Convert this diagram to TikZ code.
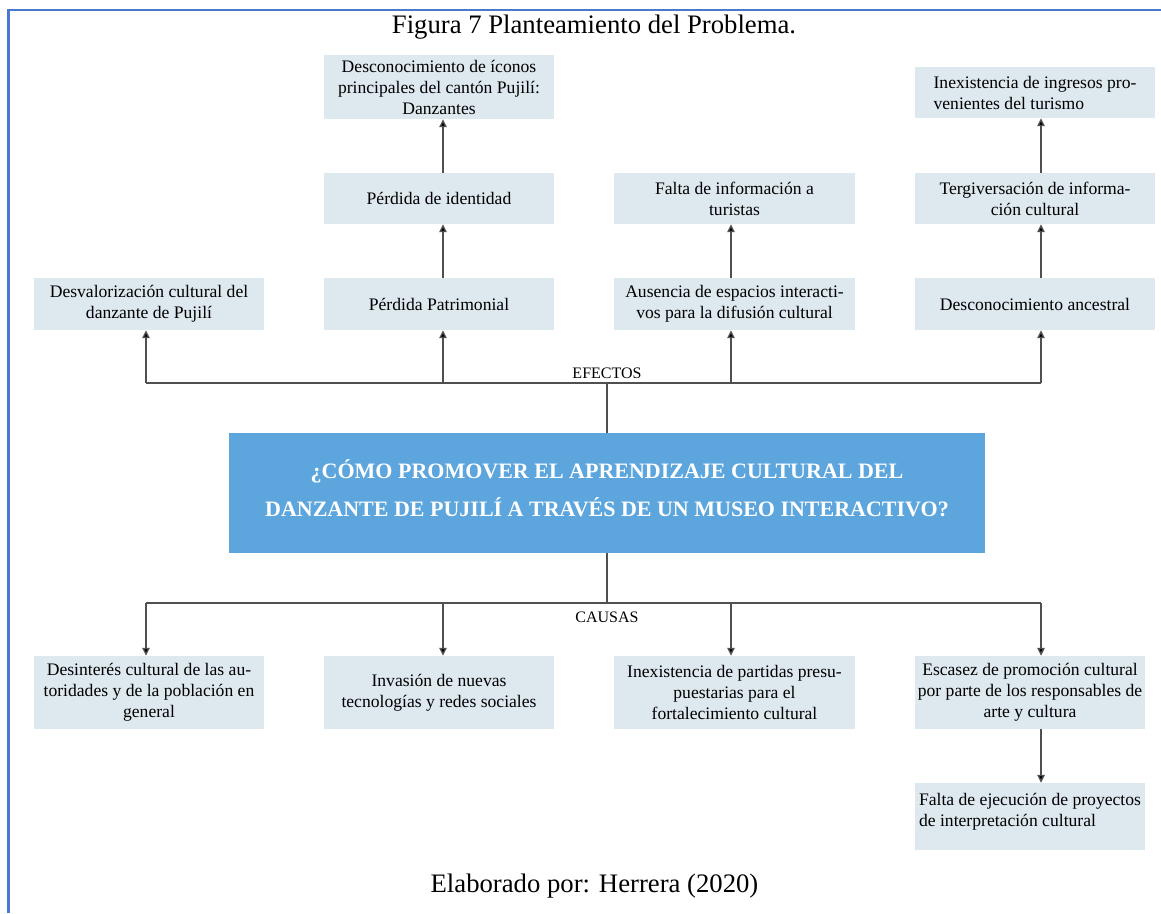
\documentclass[tikz,border=0pt]{standalone}
\usepackage{fontspec}
\setmainfont{Liberation Serif}
\usetikzlibrary{arrows.meta}
\definecolor{boxfill}{HTML}{DEE8EF}
\definecolor{qfill}{HTML}{5CA5DD}
\definecolor{framecol}{HTML}{4A78CF}
\definecolor{linecol}{HTML}{505050}
\begin{document}
\begin{tikzpicture}[x=1pt,y=-1pt,
  cbox/.style={fill=boxfill, inner sep=0pt, align=center, minimum width=#1,
    font=\fontsize{17.6}{21}\selectfont},
  lbox/.style={fill=boxfill, inner sep=0pt, align=left, minimum width=#1,
    font=\fontsize{17.6}{21}\selectfont},
  conn/.style={draw=linecol, line width=1.4pt},
  arr/.style={conn, -{Triangle[length=8pt,width=7.5pt,fill=black]}},
  lbl/.style={inner sep=0pt, font=\fontsize{16}{18}\selectfont},
  bigtxt/.style={inner sep=0pt, font=\fontsize{26.7}{30}\selectfont}
]
\useasboundingbox (0,0) rectangle (1161,913);
% frame
\draw[framecol, line width=2.4pt] (8.5,913) -- (8.5,10) -- (1161,10);

% title and source
\node[bigtxt] (title) at (594,27) {Figura 7 Planteamiento del Problema.};
\node[bigtxt] (source) at (594.5,886) {Elaborado por: Herrera (2020)};

% central question
\node[fill=qfill, minimum width=756pt, minimum height=120pt, inner sep=0pt,
  align=center, text=white, font=\fontsize{22}{38}\selectfont\bfseries]
  (q) at (607,493) {¿CÓMO PROMOVER EL APRENDIZAJE CULTURAL DEL\\DANZANTE DE PUJILÍ A TRAVÉS DE UN MUSEO INTERACTIVO?\\[-28pt]\mbox{}};

% effects
\node[cbox=230pt, minimum height=52pt] (e1) at (149,304) {Desvalorización cultural del\\danzante de Pujilí};
\node[cbox=230pt, minimum height=52pt] (e2a) at (439,304) {Pérdida Patrimonial};
\node[cbox=230pt, minimum height=51pt] (e2b) at (439,198.5) {Pérdida de identidad};
\node[cbox=230pt, minimum height=64pt] (e2c) at (439,87) {Desconocimiento de íconos\\principales del cantón Pujilí:\\Danzantes};
\node[cbox=241pt, minimum height=52pt] (e3a) at (734.5,304) {Ausencia de espacios interacti-\\vos para la difusión cultural};
\node[cbox=241pt, minimum height=51pt] (e3b) at (734.5,198.5) {Falta de información a\\turistas};
\node[cbox=240pt, minimum height=52pt] (e4a) at (1035,304) {Desconocimiento ancestral};
\node[cbox=240pt, minimum height=51pt] (e4b) at (1035,198.5) {Tergiversación de informa-\\ción cultural};
\node[lbox=240pt, minimum height=51pt] (e4c) at (1035,92.5) {Inexistencia de ingresos pro-\\venientes del turismo};

% causes
\node[cbox=230pt, minimum height=73pt] (c1) at (149,692.5) {Desinterés cultural de las au-\\toridades y de la población en\\general};
\node[cbox=230pt, minimum height=73pt] (c2) at (439,692.5) {Invasión de nuevas\\tecnologías y redes sociales};
\node[cbox=241pt, minimum height=73pt] (c3) at (734.5,692.5) {Inexistencia de partidas presu-\\puestarias para el\\fortalecimiento cultural};
\node[cbox=230pt, minimum height=73pt] (c4) at (1030,692.5) {Escasez de promoción cultural\\por parte de los responsables de\\arte y cultura};
\node[lbox=230pt, minimum height=67pt, text depth=0pt] (c5) at (1030,816.5) {Falta de ejecución de proyectos\\de interpretación cultural\\[-7pt]\mbox{}};

% bus coordinates
\coordinate (eb1) at (146,383);
\coordinate (eb2) at (443,383);
\coordinate (eb3) at (731,383);
\coordinate (eb4) at (1041,383);
\coordinate (cb1) at (146,603);
\coordinate (cb2) at (443,603);
\coordinate (cb3) at (731,603);
\coordinate (cb4) at (1041,603);

% effects connectors
\draw[conn] (q.north) -- (q.north |- eb1);
\draw[conn] (eb1) -- (eb4);
\draw[arr] (eb1) -- (eb1 |- e1.south);
\draw[arr] (eb2) -- (eb2 |- e2a.south);
\draw[arr] (eb3) -- (eb3 |- e3a.south);
\draw[arr] (eb4) -- (eb4 |- e4a.south);
\draw[arr] (eb2 |- e2a.north) -- (eb2 |- e2b.south);
\draw[arr] (eb2 |- e2b.north) -- (eb2 |- e2c.south);
\draw[arr] (eb3 |- e3a.north) -- (eb3 |- e3b.south);
\draw[arr] (eb4 |- e4a.north) -- (eb4 |- e4b.south);
\draw[arr] (eb4 |- e4b.north) -- (eb4 |- e4c.south);
\node[lbl] (efectos) at (607,373) {EFECTOS};

% causes connectors
\draw[conn] (q.south) -- (q.south |- cb1);
\draw[conn] (cb1) -- (cb4);
\draw[arr] (cb1) -- (cb1 |- c1.north);
\draw[arr] (cb2) -- (cb2 |- c2.north);
\draw[arr] (cb3) -- (cb3 |- c3.north);
\draw[arr] (cb4) -- (cb4 |- c4.north);
\draw[arr] (cb4 |- c4.south) -- (cb4 |- c5.north);
\node[lbl] (causas) at (607,617) {CAUSAS};
\end{tikzpicture}
\end{document}
